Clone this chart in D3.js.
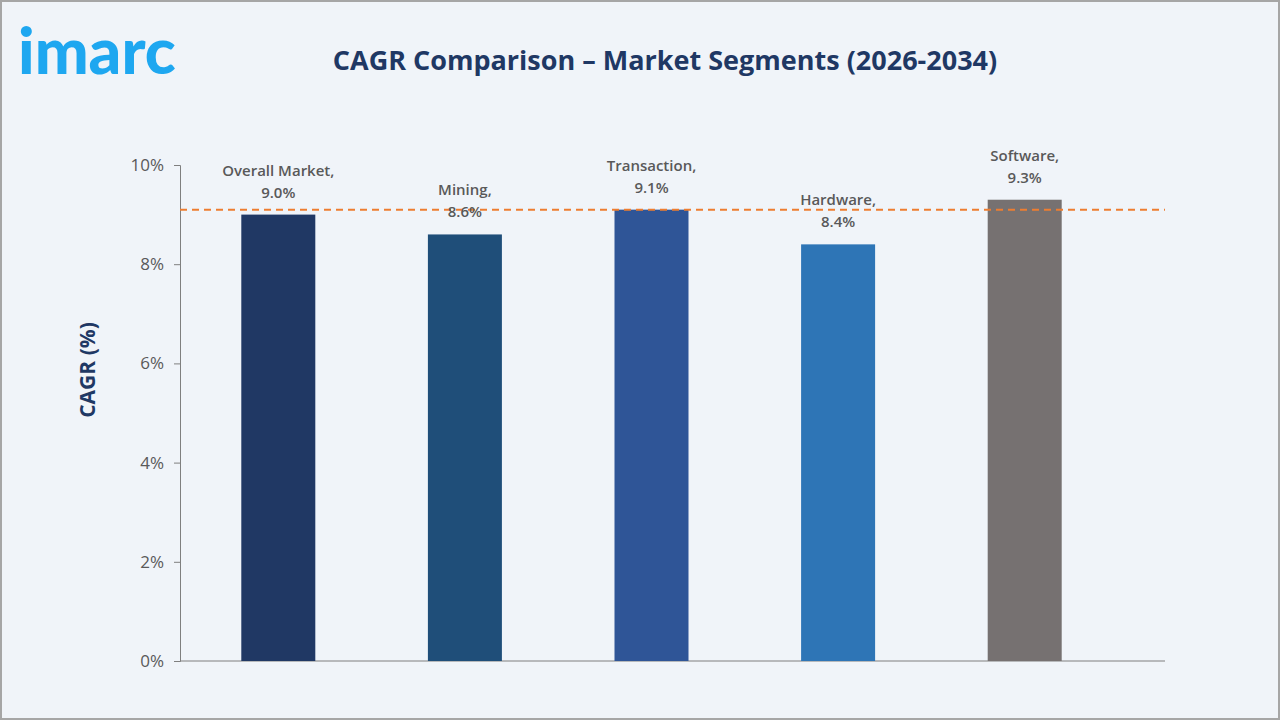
<!DOCTYPE html>
<html><head><meta charset="utf-8">
<script src="https://cdn.jsdelivr.net/npm/d3@7"></script>
<style>body{margin:0;background:#fff}svg{display:block}</style>
</head><body>
<svg id="c" width="1280" height="720"></svg>
<script>
const categories = ["Overall Market","Mining","Transaction","Hardware","Software"];
const values = [9.0, 8.6, 9.1, 8.4, 9.3];
const colors = ["#203864","#1f4e79","#2f5597","#2e75b6","#767171"];
const yTicks = [0,2,4,6,8,10];
const refValue = 9.1;

const svg = d3.select("#c");
svg.append("rect").attr("x",1).attr("y",1).attr("width",1278).attr("height",718)
  .attr("fill","#f0f4f9").attr("stroke","#a6a6a6").attr("stroke-width",2);
svg.append("text").attr("x",18).attr("y",74).attr("fill","#1ea7f0")
  .attr("font-family","Lato, 'Open Sans', sans-serif").attr("font-weight",900)
  .attr("font-size",64).attr("letter-spacing",0).text("imarc");
svg.append("text").attr("x",665).attr("y",70).attr("text-anchor","middle")
  .attr("fill","#1f3864").attr("font-family","'Open Sans', sans-serif").attr("font-weight",700)
  .attr("font-size",27).text("CAGR Comparison – Market Segments (2026-2034)");

const y = d3.scaleLinear().domain([0,10]).range([661,165]);
const x = d3.scaleBand().domain(categories).range([185,1118]);
const font = "'Open Sans', sans-serif";

const ax = svg.append("g").attr("transform","translate(180,0)")
  .call(d3.axisLeft(y).tickValues(yTicks).tickFormat(d=>d+"%").tickSize(6).tickPadding(10));
ax.select(".domain").attr("stroke","#7f7f7f");
ax.selectAll(".tick line").attr("stroke","#7f7f7f");
ax.selectAll("text").attr("font-family",font).attr("font-size",17).attr("fill","#595959");
svg.append("line").attr("x1",180).attr("x2",1165).attr("y1",y(0)).attr("y2",y(0)).attr("stroke","#7f7f7f");

svg.append("text").attr("transform","translate(95,370) rotate(-90)").attr("text-anchor","middle")
  .attr("fill","#1f3864").attr("font-family",font).attr("font-weight",700).attr("font-size",21).text("CAGR (%)");

svg.selectAll("rect.bar").data(categories).enter().append("rect")
  .attr("x",d=>x(d)+x.bandwidth()/2-37).attr("width",74)
  .attr("y",(d,i)=>y(values[i])).attr("height",(d,i)=>y(0)-y(values[i]))
  .attr("fill",(d,i)=>colors[i]);

svg.append("line").attr("x1",180).attr("x2",1165).attr("y1",y(refValue)).attr("y2",y(refValue))
  .attr("stroke","#ed7d31").attr("stroke-width",2).attr("stroke-dasharray","7,5");

const lab = svg.selectAll("g.lab").data(categories).enter().append("g");
lab.append("text").attr("x",d=>x(d)+x.bandwidth()/2).attr("y",(d,i)=>y(values[i])-39)
  .attr("text-anchor","middle").attr("font-family",font).attr("font-weight",600).attr("font-size",15)
  .attr("fill","#595959").text(d=>d+",");
lab.append("text").attr("x",d=>x(d)+x.bandwidth()/2).attr("y",(d,i)=>y(values[i])-17)
  .attr("text-anchor","middle").attr("font-family",font).attr("font-weight",600).attr("font-size",15)
  .attr("fill","#595959").text((d,i)=>values[i].toFixed(1)+"%");
</script>
</body></html>
